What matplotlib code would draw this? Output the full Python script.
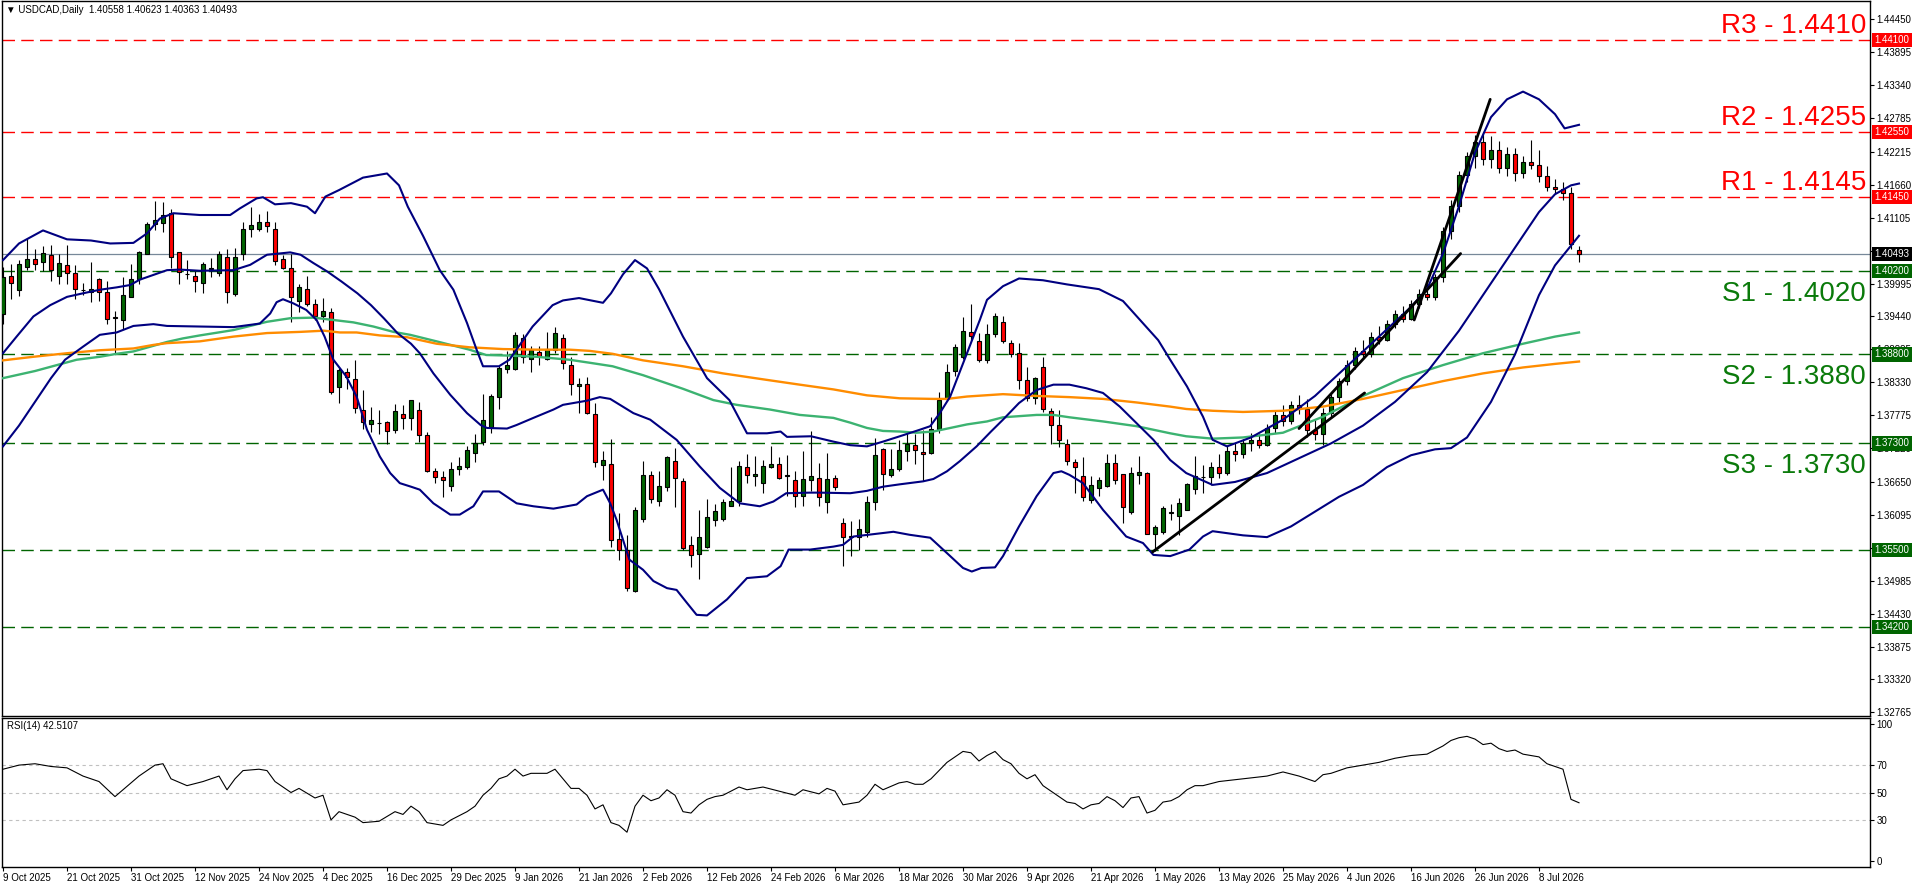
import matplotlib
matplotlib.use("Agg")
import matplotlib.pyplot as plt
import matplotlib.transforms as mtransforms
import numpy as np

# ---------------- data ----------------
opens = [
1.3948,1.4013,1.3988,1.4027,1.4040,1.4035,1.4048,1.4013,1.4030,1.4017,
1.3989,1.3986,1.4007,1.3985,1.3943,1.3938,1.3977,1.4007,1.4050,1.4099,
1.4102,1.4118,1.4052,1.4016,1.4013,1.4000,1.4024,1.4017,1.4044,1.3982,
1.4049,1.4091,1.4092,1.4103,1.4091,1.4040,1.4025,1.3970,1.3991,1.3965,
1.3944,1.3951,1.3825,1.3850,1.3838,1.3787,1.3763,1.3764,1.3766,1.3752,
1.3779,1.3773,1.3786,1.3744,1.3684,1.3673,1.3659,1.3686,1.3690,1.3713,
1.3732,1.3757,1.3809,1.3856,1.3856,1.3907,1.3872,1.3884,1.3873,1.3888,
1.3907,1.3862,1.3826,1.3830,1.3779,1.3693,1.3695,1.3569,1.3550,1.3481,
1.3602,1.3677,1.3633,1.3656,1.3700,1.3667,1.3559,1.3544,1.3556,1.3601,
1.3602,1.3625,1.3633,1.3690,1.3675,1.3663,1.3691,1.3695,1.3675,1.3668,
1.3641,1.3668,1.3672,1.3631,1.3672,1.3596,1.3573,1.3573,1.3581,1.3631,
1.3720,1.3676,1.3686,1.3718,1.3727,1.3715,1.3713,1.3754,1.3805,1.3852,
1.3875,1.3917,1.3903,1.3870,1.3914,1.3934,1.3899,1.3882,1.3837,1.3806,
1.3858,1.3785,1.3761,1.3729,1.3698,1.3675,1.3634,1.3655,1.3658,1.3697,
1.3678,1.3615,1.3677,1.3680,1.3577,1.3580,1.3613,1.3607,1.3618,1.3653,
1.3673,1.3674,1.3690,1.3680,1.3718,1.3712,1.3731,1.3735,1.3728,1.3756,
1.3778,1.3768,1.3795,1.3788,1.3752,1.3745,1.3782,1.3808,1.3835,1.3862,
1.3885,1.3880,1.3910,1.3905,1.3932,1.3948,1.3940,1.3965,1.3982,1.3976,
1.4010,1.4088,1.4130,1.4182,1.4215,1.4238,1.4210,1.4225,1.4195,1.4218,
1.4185,1.4205,1.4200,1.4180,1.4162,1.4158,1.4152,1.40558]
highs = [
1.4028,1.4032,1.4039,1.4076,1.4057,1.4063,1.4064,1.4049,1.4064,1.4030,
1.4001,1.4036,1.4009,1.4004,1.3953,1.4011,1.4032,1.4055,1.4104,1.4139,
1.4137,1.4125,1.4053,1.4039,1.4021,1.4036,1.4042,1.4055,1.4058,1.4059,
1.4104,1.4128,1.4117,1.4122,1.4103,1.4047,1.4050,1.3998,1.4012,1.3973,
1.3975,1.3958,1.3857,1.3857,1.3870,1.3820,1.3792,1.3787,1.3767,1.3796,
1.3795,1.3803,1.3799,1.3749,1.3689,1.3684,1.3699,1.3707,1.3726,1.3746,
1.3814,1.3814,1.3861,1.3885,1.3918,1.3914,1.3895,1.3895,1.3918,1.3927,
1.3914,1.3875,1.3840,1.3842,1.3798,1.3718,1.3738,1.3613,1.3576,1.3622,
1.3701,1.3684,1.3683,1.3709,1.3722,1.3672,1.3574,1.3617,1.3636,1.3628,
1.3637,1.3691,1.3700,1.3712,1.3709,1.3702,1.3726,1.3707,1.3711,1.3684,
1.3718,1.3751,1.3697,1.3714,1.3677,1.3604,1.3600,1.3603,1.3642,1.3739,
1.3722,1.3721,1.3736,1.3747,1.3746,1.3752,1.3775,1.3817,1.3864,1.3897,
1.3943,1.3965,1.3916,1.3931,1.3950,1.3945,1.3905,1.3899,1.3858,1.3842,
1.3875,1.3789,1.3787,1.3738,1.3704,1.3707,1.3675,1.3673,1.3712,1.3712,
1.3679,1.3691,1.3709,1.3681,1.3593,1.3625,1.3628,1.3638,1.3663,1.3709,
1.3694,1.3698,1.3712,1.3725,1.3730,1.3738,1.3748,1.3745,1.3762,1.3785,
1.3795,1.3802,1.3812,1.3805,1.3770,1.3790,1.3815,1.3840,1.3870,1.3892,
1.3905,1.3918,1.3928,1.3938,1.3955,1.3962,1.3972,1.3990,1.3998,1.4015,
1.4095,1.4140,1.4190,1.4222,1.4250,1.4255,1.4248,1.4240,1.4230,1.4228,
1.4215,1.4242,1.4225,1.4198,1.4175,1.4170,1.4162,1.40623]
lows = [
1.3931,1.3973,1.3979,1.4023,1.4023,1.4020,1.4004,1.3999,1.3999,1.3973,
1.3980,1.3968,1.3970,1.3931,1.3882,1.3923,1.3976,1.3998,1.4049,1.4089,
1.4087,1.4026,1.3998,1.4007,1.3986,1.3983,1.4011,1.4012,1.3967,1.3979,
1.4039,1.4078,1.4088,1.4087,1.4031,1.4024,1.3935,1.3952,1.3962,1.3938,
1.3935,1.3813,1.3798,1.3821,1.3781,1.3754,1.3750,1.3746,1.3729,1.3747,
1.3754,1.3752,1.3733,1.3682,1.3663,1.3639,1.3650,1.3676,1.3687,1.3698,
1.3727,1.3748,1.3788,1.3848,1.3854,1.3865,1.3851,1.3862,1.3871,1.3883,
1.3856,1.3811,1.3781,1.3780,1.3691,1.3669,1.3556,1.3533,1.3482,1.3479,
1.3598,1.3629,1.3624,1.3649,1.3622,1.3550,1.3521,1.3501,1.3554,1.3590,
1.3599,1.3624,1.3625,1.3664,1.3659,1.3646,1.3688,1.3670,1.3641,1.3623,
1.3625,1.3650,1.3624,1.3613,1.3652,1.3523,1.3540,1.3551,1.3573,1.3617,
1.3651,1.3674,1.3684,1.3701,1.3696,1.3666,1.3712,1.3747,1.3802,1.3843,
1.3873,1.3903,1.3868,1.3866,1.3909,1.3900,1.3875,1.3821,1.3802,1.3796,
1.3783,1.3729,1.3724,1.3693,1.3647,1.3633,1.3629,1.3641,1.3657,1.3661,
1.3596,1.3611,1.3662,1.3577,1.3548,1.3577,1.3601,1.3576,1.3617,1.3645,
1.3646,1.3660,1.3672,1.3676,1.3700,1.3705,1.3718,1.3722,1.3725,1.3748,
1.3760,1.3762,1.3780,1.3740,1.3735,1.3728,1.3775,1.3800,1.3828,1.3855,
1.3872,1.3876,1.3898,1.3902,1.3925,1.3935,1.3938,1.3958,1.3972,1.3972,
1.4002,1.4075,1.4120,1.4170,1.4195,1.4200,1.4195,1.4185,1.4180,1.4172,
1.4178,1.4192,1.4170,1.4155,1.4150,1.4140,1.4058,1.40363]
closes = [
1.4010,1.4000,1.4032,1.4040,1.4033,1.4051,1.4022,1.4034,1.4018,1.3991,
1.3989,1.3991,1.3986,1.3939,1.3942,1.3980,1.4007,1.4052,1.4100,1.4107,
1.4115,1.4045,1.4019,1.4016,1.4003,1.4032,1.4025,1.4050,1.3985,1.4045,
1.4092,1.4098,1.4104,1.4096,1.4038,1.4025,1.3976,1.3993,1.3965,1.3945,
1.3954,1.3816,1.3853,1.3842,1.3789,1.3766,1.3770,1.3764,1.3751,1.3785,
1.3773,1.3803,1.3744,1.3683,1.3673,1.3668,1.3687,1.3692,1.3719,1.3731,
1.3769,1.3810,1.3857,1.3862,1.3912,1.3875,1.3887,1.3877,1.3889,1.3916,
1.3865,1.3830,1.3830,1.3781,1.3698,1.3702,1.3567,1.3551,1.3486,1.3618,
1.3677,1.3636,1.3658,1.3707,1.3672,1.3554,1.3542,1.3572,1.3606,1.3616,
1.3631,1.3633,1.3692,1.3677,1.3679,1.3692,1.3695,1.3672,1.3676,1.3641,
1.3670,1.3675,1.3639,1.3670,1.3657,1.3572,1.3574,1.3585,1.3631,1.3711,
1.3678,1.3687,1.3719,1.3729,1.3719,1.3712,1.3754,1.3803,1.3851,1.3892,
1.3919,1.3911,1.3870,1.3915,1.3944,1.3903,1.3880,1.3837,1.3806,1.3840,
1.3788,1.3761,1.3736,1.3701,1.3690,1.3640,1.3660,1.3668,1.3697,1.3668,
1.3623,1.3680,1.3682,1.3578,1.3589,1.3621,1.3614,1.3629,1.3661,1.3675,
1.3674,1.3690,1.3680,1.3718,1.3712,1.3731,1.3735,1.3728,1.3756,1.3778,
1.3768,1.3795,1.3788,1.3752,1.3745,1.3782,1.3808,1.3835,1.3862,1.3885,
1.3880,1.3910,1.3905,1.3932,1.3948,1.3940,1.3965,1.3982,1.3976,1.4010,
1.4088,1.4130,1.4182,1.4215,1.4238,1.4210,1.4225,1.4195,1.4218,1.4185,
1.4205,1.4200,1.4180,1.4162,1.4158,1.4152,1.4066,1.40493]

# Bollinger bands (bar index, price)
bb_upper_x = [0,2,5,8,11,13.4,16.3,18,19.6,21.3,24.6,28.4,29.6,31.7,32.5,34,36,38,39,40.3,42,45,48,49.5,50.6,52.5,54.6,56.3,58,59.2,60,62,63.3,66.2,68.7,70,72,75,76,77.5,79,80.5,82,85,88,90.8,93,95.5,97.2,98,101,103.8,105.9,108,110,112.1,114.6,115.9,117.1,118.4,120.5,122.1,123,125,127,130,133,137,140,142,144.4,145.9,148,150,151.2,153,156,160,164,168,172,176,178,180,182,184,186,188,190,192,194,195.2,197]
bb_upper_y = [1.4039,1.4067,1.4089,1.4074,1.4072,1.4067,1.4068,1.4084,1.4109,1.4118,1.4115,1.4115,1.4126,1.4143,1.4145,1.4133,1.4135,1.4129,1.4118,1.4146,1.4157,1.4178,1.4185,1.4165,1.4129,1.4080,1.4022,1.3989,1.3933,1.3888,1.3860,1.3860,1.3871,1.3927,1.3963,1.3971,1.3975,1.3967,1.3983,1.4015,1.4039,1.4025,1.3990,1.3910,1.3840,1.3803,1.3747,1.3747,1.3750,1.3741,1.3742,1.3733,1.3727,1.3725,1.3733,1.3742,1.3753,1.3759,1.3781,1.3809,1.3882,1.3938,1.3972,1.3995,1.4008,1.4005,1.3998,1.3990,1.3970,1.3940,1.3904,1.3871,1.3826,1.3775,1.3736,1.3725,1.3740,1.3770,1.3810,1.3860,1.3910,1.3960,1.3990,1.4050,1.4130,1.4220,1.4280,1.4310,1.4323,1.4310,1.4285,1.4261,1.4267]
bb_mid_x = [0,1.7,3.8,5.9,8,10,12.1,14.2,15.9,17.1,18.8,20.5,22.1,24.6,28.8,30.9,33,35.9,37.2,38.8,40.5,42.3,44.3,46,47.6,49.3,51,52.1,53.8,55.9,58,59.7,60.5,63,64.2,66.3,68.8,70,73,74.6,75.9,78.8,80.9,84.2,87.1,89.6,92.1,94.6,96.3,97.9,100.9,102.1,105.9,108,110,112.1,115,116.3,118,119.6,121.7,123.5,125,127,129.2,131.3,133.3,135.4,137.5,139.6,141.7,143.8,145.9,147.9,151.2,154,158,162,166,170,174,178,182,186,189,192,194,196,197]
bb_mid_y = [1.3882,1.3910,1.3944,1.3963,1.3977,1.3983,1.3989,1.3993,1.3997,1.4006,1.4014,1.4022,1.4023,1.4021,1.4022,1.4031,1.4048,1.4052,1.4048,1.4034,1.4020,1.4003,1.3983,1.3963,1.3941,1.3916,1.3898,1.3882,1.3848,1.3812,1.3781,1.3761,1.3756,1.3755,1.3761,1.3773,1.3787,1.3795,1.3802,1.3808,1.3805,1.3781,1.3770,1.3736,1.3691,1.3655,1.3629,1.3624,1.3632,1.3646,1.3647,1.3647,1.3646,1.3650,1.3657,1.3661,1.3666,1.3670,1.3683,1.3700,1.3725,1.3750,1.3770,1.3798,1.3820,1.3829,1.3829,1.3823,1.3815,1.3792,1.3764,1.3736,1.3702,1.3680,1.3660,1.3665,1.3680,1.3705,1.3730,1.3760,1.3800,1.3850,1.3920,1.4000,1.4060,1.4120,1.4150,1.4165,1.4168]
bb_lower_x = [0,2,4,6,7.75,10,12.1,14.2,16.3,18.8,20.5,24.6,28.8,32.1,33.4,34.2,35,36.3,37.9,39.2,40.2,41.3,42.9,44.2,45.5,47.1,48.4,49.6,51,52.1,53.8,55.9,57.1,58.8,60,62,64.2,66.3,68.8,71.7,73,75,75.9,76.7,78.3,80,81.3,83,84.2,85.5,86.7,88,90.5,93,95.5,97.2,98.2,100.9,103.8,105,106.3,108.8,111.3,113.3,115.9,118,120,121.1,122.3,124,125,127,129.2,131.3,132.3,133.3,135,137.5,140.4,142.5,143.8,145.9,148.3,150,151.2,155,158,161,164,167,170,173,176,179,181,183,186,189,192,194,197]
bb_lower_y = [1.3725,1.3760,1.3800,1.3840,1.3871,1.3893,1.3913,1.3917,1.3928,1.3931,1.3928,1.3927,1.3926,1.3932,1.3949,1.3968,1.3973,1.3966,1.3955,1.3938,1.3910,1.3871,1.3843,1.3809,1.3753,1.3708,1.3680,1.3663,1.3657,1.3652,1.3629,1.3610,1.3610,1.3624,1.3649,1.3649,1.3629,1.3624,1.3620,1.3627,1.3641,1.3652,1.3629,1.3601,1.3534,1.3517,1.3498,1.3486,1.3483,1.3461,1.3441,1.3440,1.3467,1.3503,1.3506,1.3523,1.3551,1.3551,1.3556,1.3559,1.3573,1.3577,1.3581,1.3576,1.3571,1.3545,1.3520,1.3514,1.3520,1.3521,1.3540,1.3590,1.3641,1.3680,1.3683,1.3677,1.3663,1.3618,1.3573,1.3562,1.3542,1.3540,1.3551,1.3573,1.3582,1.3575,1.3572,1.3590,1.3615,1.3640,1.3660,1.3690,1.3710,1.3720,1.3722,1.3740,1.3800,1.3880,1.3980,1.4030,1.4080]

# moving averages
ma_orange_x = [0,3.8,8,12.1,16.3,18.8,20.5,24.6,28.8,33,37.2,40.1,42.1,44.2,47.1,50.5,54.2,58.3,62.5,66.7,70.8,73.3,76.2,80,85,90,95,99.6,103.8,108,112.1,116.3,118,120.5,125,129.2,133.3,137.5,139.6,141.7,145.9,147.9,151.2,155,160,165,170,175,180,185,190,194,197]
ma_orange_y = [1.3870,1.3876,1.3882,1.3887,1.3890,1.3896,1.3899,1.3902,1.3910,1.3916,1.3918,1.3920,1.3917,1.3917,1.3912,1.3909,1.3898,1.3892,1.3889,1.3888,1.3888,1.3886,1.3881,1.3870,1.3860,1.3848,1.3838,1.3829,1.3821,1.3811,1.3806,1.3805,1.3805,1.3809,1.3813,1.3810,1.3808,1.3805,1.3802,1.3799,1.3792,1.3788,1.3785,1.3783,1.3785,1.3792,1.3805,1.3820,1.3835,1.3848,1.3858,1.3864,1.3868]
ma_green_x = [0,4,9.2,12.1,14.2,16.3,18.4,20.5,22.5,24.6,28.8,33,35.9,38.8,41.3,43.8,46.3,48.8,50.9,54.2,58.3,60.4,63.3,66.7,70.8,73.3,76.2,80,85,88.8,91.7,95.9,99.6,103.8,105.9,108,110,112.1,114.2,116.3,118.4,120.5,123,125,129.2,131.3,133.3,137.5,141.7,143.8,145.9,147.9,151.2,155,160,165,170,175,180,185,190,194,197]
ma_green_y = [1.3840,1.3852,1.3871,1.3876,1.3881,1.3885,1.3893,1.3901,1.3907,1.3912,1.3921,1.3935,1.3941,1.3942,1.3938,1.3934,1.3927,1.3918,1.3913,1.3902,1.3888,1.3879,1.3878,1.3876,1.3871,1.3866,1.3860,1.3845,1.3822,1.3803,1.3795,1.3787,1.3778,1.3773,1.3765,1.3756,1.3751,1.3750,1.3748,1.3750,1.3756,1.3762,1.3767,1.3774,1.3778,1.3778,1.3774,1.3767,1.3759,1.3753,1.3747,1.3742,1.3738,1.3740,1.3748,1.3775,1.3810,1.3840,1.3862,1.3882,1.3898,1.3910,1.3917]

# RSI(14)
rsi_x = [0,2,4,6,8,10,12,14,15,17,19,20,21,23,25,27,28,29,30,32,33,34,36,37,39,40,41,42,44,45,47,49,50,51,52,53,55,56,58,59,60,61,62,63,64,65,66,68,69,70,71,72,73,74,75,76,77,78,79,80,81,82,83,84,85,86,87,88,89,90,92,93,95,97,99,100,102,103,104,105,107,108,109,110,112,113,114,115,116,117,118,119,120,121,122,123,124,125,126,127,128,129,130,131,132,133,134,135,136,137,138,139,140,141,142,143,144,145,146,147,148,149,150,152,155,158,160,162,164,165,166,168,170,172,174,176,178,180,181,182,183,184,185,186,187,188,189,190,191,192,193,194,195,196,197]
rsi_v = [67,70,71,69,68,62,58,47,52,62,70,71,60,55,58,62,52,60,66,67,66,58,50,53,46,48,30,36,32,28,29,36,34,40,36,28,26,30,36,40,48,53,60,62,67,62,64,64,67,60,53,53,48,38,41,28,26,21,40,48,44,46,52,48,36,35,41,45,47,48,54,52,54,51,48,52,49,53,51,41,43,48,56,52,57,58,56,56,60,66,72,76,80,79,73,77,80,74,71,64,60,63,55,51,47,43,42,38,41,42,47,44,39,46,47,35,37,43,44,47,52,55,55,58,60,62,65,62,58,63,64,68,70,72,75,77,78,84,88,90,91,89,85,86,82,80,81,78,77,76,71,69,67,45,42.51]

# levels
level_values = [1.4410, 1.4255, 1.4145, 1.4020, 1.3880, 1.3730, 1.3550, 1.3420]
level_kinds  = ['R', 'R', 'R', 'S', 'S', 'S', 'S', 'S']
level_texts  = ['R3 - 1.4410', 'R2 - 1.4255', 'R1 - 1.4145', 'S1 - 1.4020', 'S2 - 1.3880', 'S3 - 1.3730', '', '']
last_price = 1.40493

# trend lines (bar index, price)
trend_x = [[143.7, 170.2], [162.0, 182.2], [176.4, 185.9]]
trend_y = [[1.3547, 1.3815], [1.3755, 1.4050], [1.3938, 1.4310]]

price_ticks = [1.44450,1.43895,1.43340,1.42785,1.42215,1.41660,1.41105,1.40550,1.39995,1.39440,1.38885,1.38330,1.37775,1.37220,1.36650,1.36095,1.35540,1.34985,1.34430,1.33875,1.33320,1.32765]
rsi_ticks = [0, 30, 50, 70, 100]
rsi_levels = [70, 50, 30]
date_labels = ["9 Oct 2025","21 Oct 2025","31 Oct 2025","12 Nov 2025","24 Nov 2025","4 Dec 2025",
               "16 Dec 2025","29 Dec 2025","9 Jan 2026","21 Jan 2026","2 Feb 2026","12 Feb 2026",
               "24 Feb 2026","6 Mar 2026","18 Mar 2026","30 Mar 2026","9 Apr 2026","21 Apr 2026",
               "1 May 2026","13 May 2026","25 May 2026","4 Jun 2026","16 Jun 2026","26 Jun 2026","8 Jul 2026"]
date_bars = list(range(0, 8 * len(date_labels), 8))

header = "\u25bc USDCAD,Daily  1.40558 1.40623 1.40363 1.40493"
rsi_header = "RSI(14) 42.5107"

# ---------------- figure ----------------
FONT = ['Liberation Sans', 'DejaVu Sans']
plt.rcParams['font.family'] = FONT
W, H = 1916, 888
fig = plt.figure(figsize=(W / 100, H / 100), dpi=100)
fig.patch.set_facecolor('white')

def axes_px(l, t, r, b):
    return fig.add_axes([l / W, 1 - b / H, (r - l) / W, (b - t) / H])

ax = axes_px(2, 1, 1870, 716)
rx = axes_px(2, 718, 1870, 867)

def price_at_px(y):
    return 1.44100 - (y - 40) * 0.00016857

xmin = -0.125
xmax = xmin + 1868 / 8.0
for a in (ax, rx):
    a.set_xlim(xmin, xmax)
    for s in a.spines.values():
        s.set_color('black')
        s.set_linewidth(1.0)
ax.set_ylim(price_at_px(716), price_at_px(1))

RED = '#ff0000'
GREEN_LINE = '#006400'
GREEN_TXT = '#0a7a0a'

# level lines
for lv, kind in zip(level_values, level_kinds):
    ax.axhline(lv, color=RED if kind == 'R' else GREEN_LINE, lw=1.0,
               linestyle=(0, (9, 4.5)), zorder=1)
ax.axhline(last_price, color='#778899', lw=0.9, zorder=1)

# candles
o = np.array(opens); h = np.array(highs); l = np.array(lows); c = np.array(closes)
x = np.arange(len(o))
up = c >= o
ax.vlines(x, l, h, color='black', lw=0.8, zorder=4)
bot = np.minimum(o, c)
ht = np.maximum(np.abs(c - o), 0.00001)
ax.bar(x, ht, bottom=bot, width=0.62, color=np.where(up, '#006400', RED),
       edgecolor='black', linewidth=0.8, zorder=5)

# indicators
ax.plot(ma_green_x, ma_green_y, color='#3cb371', lw=1.7, zorder=6)
ax.plot(ma_orange_x, ma_orange_y, color='#ff8c00', lw=1.7, zorder=6)
for bx, by in ((bb_upper_x, bb_upper_y), (bb_mid_x, bb_mid_y), (bb_lower_x, bb_lower_y)):
    ax.plot(bx, by, color='#000080', lw=1.5, zorder=7)
for tx, ty in zip(trend_x, trend_y):
    ax.plot(tx, ty, color='black', lw=2.0, zorder=8, solid_capstyle='round')

# level labels
bt = mtransforms.blended_transform_factory(ax.transAxes, ax.transData)
pxp = 0.00016857
for lv, kind, txt in zip(level_values, level_kinds, level_texts):
    if not txt:
        continue
    if kind == 'R':
        yb = lv + 7 * pxp
        col = RED
    else:
        yb = lv - 30 * pxp
        col = GREEN_TXT
    ax.text(1 - 4 / 1868, yb, txt, transform=bt, ha='right', va='baseline',
            fontsize=20, color=col, zorder=9)

# right axis
ax.yaxis.tick_right()
ax.set_yticks(price_ticks)
ax.set_yticklabels([f"{v:.5f}" for v in price_ticks])
ax.tick_params(axis='y', direction='out', length=3, width=0.8, pad=1.5, labelsize=7)
ax.set_xticks([])

# badges
for lv, kind in zip(level_values, level_kinds):
    ax.text(1.0 + 4.5 / 1868, lv, f"{lv:.5f}", transform=bt, fontsize=7, color='white',
            va='center', ha='left', zorder=20, clip_on=False,
            bbox=dict(boxstyle='square,pad=0.22', fc=RED if kind == 'R' else GREEN_LINE, ec='none'))
ax.text(1.0 + 4.5 / 1868, last_price, f"{last_price:.5f}", transform=bt, fontsize=7, color='white',
        va='center', ha='left', zorder=21, clip_on=False,
        bbox=dict(boxstyle='square,pad=0.22', fc='black', ec='none'))

ax.text(4 / 1868, 1 - 9 / 715, header, transform=ax.transAxes, fontsize=7,
        va='center', ha='left', color='black')

# RSI panel
rx.plot(rsi_x, rsi_v, color='black', lw=0.8, zorder=3)
rx.set_ylim(-4.4, 104.4)
for lv in rsi_levels:
    rx.axhline(lv, color='#c0c0c0', lw=0.8, linestyle=(0, (3, 3)), zorder=1)
rx.yaxis.tick_right()
rx.set_yticks(rsi_ticks)
rx.set_yticklabels([str(v) for v in rsi_ticks])
rx.tick_params(axis='y', direction='out', length=3, width=0.8, pad=1.5, labelsize=7)
rx.set_xticks(date_bars)
rx.set_xticklabels(date_labels, ha='left')
rx.tick_params(axis='x', direction='out', length=3, width=0.8, pad=1.0, labelsize=7)
rx.text(5 / 1868, 1 - 8 / 149, rsi_header, transform=rx.transAxes, fontsize=7,
        va='center', ha='left', color='black')

fig.savefig('out.png', dpi=100, facecolor='white')
